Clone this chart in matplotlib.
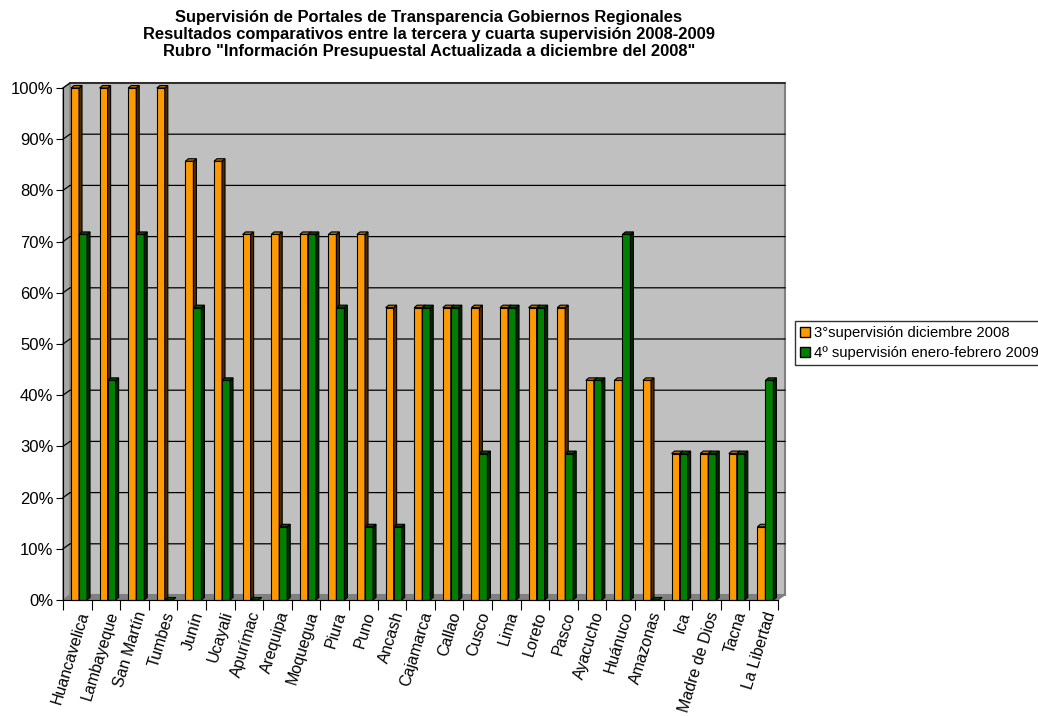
import matplotlib
matplotlib.use("Agg")
import matplotlib.pyplot as plt
from matplotlib.patches import Polygon, Rectangle, Patch

plt.rcParams["font.family"] = ["Liberation Sans", "DejaVu Sans"]

regiones = ["Huancavelica", "Lambayeque", "San Martín", "Tumbes", "Junín", "Ucayali",
            "Apurímac", "Arequipa", "Moquegua", "Piura", "Puno", "Ancash", "Cajamarca",
            "Callao", "Cusco", "Lima", "Loreto", "Pasco", "Ayacucho", "Huánuco",
            "Amazonas", "Ica", "Madre de Dios", "Tacna", "La Libertad"]
tercera = [100, 100, 100, 100, 85.7, 85.7, 71.4, 71.4, 71.4, 71.4, 71.4, 57.1, 57.1,
           57.1, 57.1, 57.1, 57.1, 57.1, 42.9, 42.9, 42.9, 28.6, 28.6, 28.6, 14.3]
cuarta = [71.4, 42.9, 71.4, 0, 57.1, 42.9, 0, 14.3, 71.4, 57.1, 14.3, 14.3, 57.1,
          57.1, 28.6, 57.1, 57.1, 28.6, 42.9, 71.4, 0, 28.6, 28.6, 28.6, 42.9]
serie1 = "3°supervisión diciembre 2008"
serie2 = "4º supervisión enero-febrero 2009"

fig = plt.figure(figsize=(10.38, 7.16), dpi=100)
W, H = 1038, 716
left, right, bottom, top = 63, 778, 600, 88
ax = fig.add_axes([left / W, (H - bottom) / H, (right - left) / W, (bottom - top) / H])
n = len(regiones)
ax.set_xlim(0, n)
ax.set_ylim(0, 100)
ax.set_facecolor("none")

# pixel -> data
px = n / (right - left)
py = 100 / (bottom - top)
wdx, wdy = 7 * px, 5 * py   # wall depth
bdx, bdy = 3 * px, 2.5 * py  # bar depth

# back wall, side wall, floor
ax.add_patch(Rectangle((wdx, wdy), n, 100, facecolor="#C0C0C0", edgecolor="#808080",
                       lw=1.5, zorder=0, clip_on=False))
ax.add_patch(Polygon([(0, 0), (wdx, wdy), (wdx, 100 + wdy), (0, 100)], closed=True,
                     facecolor="#A6A6A6", edgecolor="#808080", lw=1, zorder=0.2, clip_on=False))
for yv in range(10, 101, 10):
    ax.plot([0, wdx, n + wdx], [yv, yv + wdy, yv + wdy], color="black", lw=0.9,
            zorder=0.5, clip_on=False)
ax.add_patch(Polygon([(0, 0), (n, 0), (n + wdx, wdy), (wdx, wdy)], closed=True,
                     facecolor="#808080", edgecolor="#808080", lw=0.5, zorder=1, clip_on=False))

w = 0.28
series = [(tercera, 0.28, "#FF9900", "#4A2C00", "#B36B00"),
          (cuarta, 0.56, "#008000", "#002800", "#004D00")]
for i in range(n):
    for vals, off, fc, sc, tc in series:
        v = vals[i]
        x0 = i + off
        z = 2 + i * 0.01 + off * 0.01
        ax.bar(x0, v, w, align="edge", color=fc, edgecolor="black", lw=0.8,
               zorder=z, clip_on=False)
        ax.add_patch(Polygon([(x0 + w, 0), (x0 + w, v), (x0 + w + bdx, v + bdy),
                              (x0 + w + bdx, bdy)], closed=True, facecolor=sc,
                             edgecolor="black", lw=0.8, zorder=z, clip_on=False))
        ax.add_patch(Polygon([(x0, v), (x0 + w, v), (x0 + w + bdx, v + bdy),
                              (x0 + bdx, v + bdy)], closed=True, facecolor=tc,
                             edgecolor="black", lw=0.8, zorder=z, clip_on=False))

ax.spines["top"].set_visible(False)
ax.spines["right"].set_visible(False)
ax.spines["left"].set_zorder(3)
ax.spines["bottom"].set_zorder(3)
ax.set_yticks(range(0, 101, 10))
ax.set_yticklabels([f"{t}%" for t in range(0, 101, 10)], fontsize=12)
ax.set_xticks(range(0, n + 1), minor=False)
ax.set_xticklabels([])
ax.set_xticks([i + 0.5 for i in range(n)], minor=True)
ax.set_xticklabels(regiones, minor=True, rotation=73, ha="right", va="top",
                   rotation_mode="anchor", fontsize=11.5)
ax.tick_params(axis="x", which="major", length=7, direction="out")
ax.tick_params(axis="x", which="minor", length=0, pad=7)
ax.tick_params(axis="y", length=5, direction="out", pad=2)

fig.text(429 / W, 1 - 10 / H,
         "Supervisión de Portales de Transparencia Gobiernos Regionales\n"
         "Resultados comparativos entre la tercera y cuarta supervisión 2008-2009\n"
         "Rubro \"Información Presupuestal Actualizada a diciembre del 2008\"",
         ha="center", va="top", fontsize=11.9, fontweight="bold", linespacing=1.15)

handles = [Patch(facecolor="#FF9900", edgecolor="black"),
           Patch(facecolor="#008000", edgecolor="black")]
fig.legend(handles, [serie1, serie2], loc="upper left",
           bbox_to_anchor=(795 / W, 1 - 321 / H), fontsize=10.7, frameon=True,
           fancybox=False, edgecolor="black", handlelength=0.65, handleheight=0.65,
           handletextpad=0.25, borderpad=0.35, labelspacing=0.4, borderaxespad=0)

fig.savefig("out.png", dpi=100)
